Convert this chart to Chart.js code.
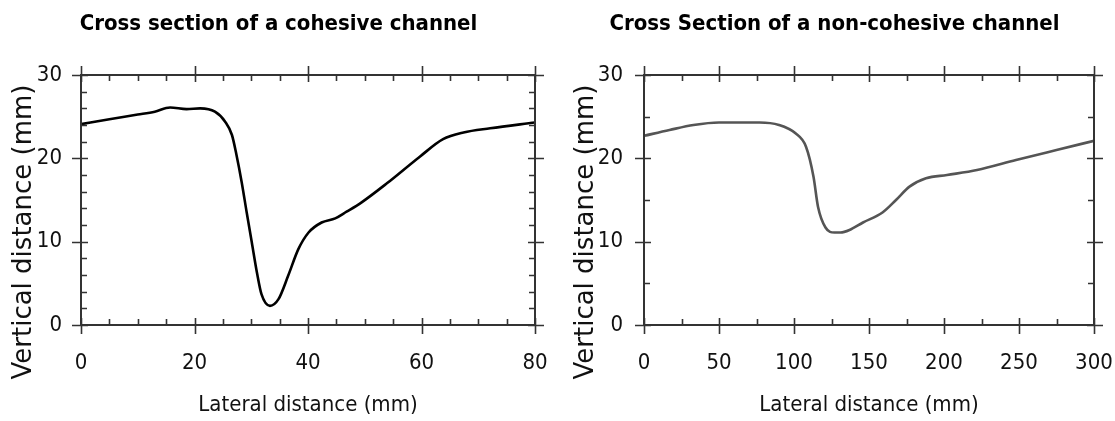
<!DOCTYPE html>
<html>
<head>
<meta charset="utf-8">
<script src="https://cdn.jsdelivr.net/npm/chart.js@4/dist/chart.umd.min.js"></script>
<style>
  html, body { margin: 0; padding: 0; background: #fff; }
  #wrap { position: relative; width: 1115px; height: 421px; overflow: hidden; }
  .cv { position: absolute; top: 0; }
</style>
</head>
<body>
<div id="wrap">
  <canvas id="c1" class="cv" width="557" height="421" style="left:0px"></canvas>
  <canvas id="c2" class="cv" width="558" height="421" style="left:557px"></canvas>
</div>
<script>
// ---- Data ----
const cohesiveX = [0, 5, 10, 13, 15.7, 18.6, 21, 23.6, 25.4, 26.6, 27.4, 28.3, 29.2, 30.1, 31.0, 31.8, 33.3, 34.8, 36.5, 38.3, 40.1, 42.4, 44.8, 46.8, 49.2, 53.9, 59.7, 63.8, 67.4, 72.1, 80];
const cohesiveY = [24.1, 24.7, 25.25, 25.6, 26.1, 25.9, 26.0, 25.6, 24.4, 22.8, 20.4, 17.2, 13.5, 9.9, 6.3, 3.7, 2.3, 3.1, 5.9, 9.1, 11.1, 12.3, 12.8, 13.6, 14.6, 17.0, 20.2, 22.3, 23.1, 23.6, 24.3];

const nonCohesiveX = [0, 17, 33, 50, 77, 90, 101, 108, 113, 116, 121, 127, 131, 137, 146, 159, 168, 177, 188, 202, 222, 248, 275, 300];
const nonCohesiveY = [22.7, 23.4, 24.0, 24.3, 24.3, 24.0, 23.0, 21.4, 17.8, 14.2, 11.7, 11.1, 11.1, 11.4, 12.3, 13.5, 15.0, 16.6, 17.6, 18.0, 18.6, 19.8, 21.0, 22.1];

const titles = ['Cross section of a cohesive channel', 'Cross Section of a non-cohesive channel'];
const xTitle = 'Lateral distance (mm)';
const yTitle = 'Vertical distance (mm)';

// axis ranges and tick steps
const leftX = { min: 0, max: 80, major: 20, minor: 5 };
const leftY = { min: 0, max: 30, major: 10, minor: 2 };
const rightX = { min: 0, max: 300, major: 50, minor: 25 };
const rightY = { min: 0, max: 30, major: 10, minor: 5 };

const NARROW = '"Liberation Sans Narrow", "DejaVu Sans Condensed", "Roboto Condensed", "Liberation Sans", sans-serif';
const AXIS_COLOR = '#333';

function toPoints(xs, ys) { return xs.map((x, i) => ({ x: x, y: ys[i] })); }

function framePlugin(xs, ys) {
  return {
    id: 'frameTicks',
    afterDatasetsDraw(chart) {
      const ctx = chart.ctx;
      const a = chart.chartArea;
      const sx = chart.scales.x, sy = chart.scales.y;
      ctx.save();
      ctx.strokeStyle = AXIS_COLOR;
      ctx.lineWidth = 2;
      ctx.strokeRect(a.left, a.top, a.right - a.left, a.bottom - a.top);
      ctx.lineWidth = 1.6;
      ctx.beginPath();
      for (let v = xs.min; v <= xs.max + 1e-9; v += xs.minor) {
        const px = Math.round(sx.getPixelForValue(v)) + 0.5;
        const isMajor = Math.abs(v / xs.major - Math.round(v / xs.major)) < 1e-6;
        const inL = isMajor ? 7 : 6, outL = isMajor ? 9 : 0;
        ctx.moveTo(px, a.bottom + outL); ctx.lineTo(px, a.bottom - inL);
        ctx.moveTo(px, a.top - outL); ctx.lineTo(px, a.top + inL);
      }
      for (let v = ys.min; v <= ys.max + 1e-9; v += ys.minor) {
        const py = Math.round(sy.getPixelForValue(v)) + 0.5;
        const isMajor = Math.abs(v / ys.major - Math.round(v / ys.major)) < 1e-6;
        const inL = isMajor ? 7 : 6, outL = isMajor ? 9 : 0;
        ctx.moveTo(a.left - outL, py); ctx.lineTo(a.left + inL, py);
        ctx.moveTo(a.right + outL, py); ctx.lineTo(a.right - inL, py);
      }
      ctx.stroke();
      ctx.restore();
    }
  };
}

function yTitlePlugin(cx) {
  return {
    id: 'yTitle',
    afterDraw(chart) {
      const ctx = chart.ctx;
      ctx.save();
      ctx.translate(cx, 232);
      ctx.rotate(-Math.PI / 2);
      ctx.font = '26px "DejaVu Sans", sans-serif';
      ctx.fillStyle = '#111';
      ctx.textAlign = 'center';
      ctx.textBaseline = 'middle';
      ctx.fillText(yTitle, 0, 0);
      ctx.restore();
    }
  };
}

function makeChart(id, title, xs, ys, pts, color, leftPad, yAxisWidth, yPad, yTitleX, rightPad) {
  return new Chart(document.getElementById(id), {
    type: 'line',
    data: {
      datasets: [{
        data: pts,
        borderColor: color,
        borderWidth: 2.6,
        pointRadius: 0,
        fill: false,
        cubicInterpolationMode: 'monotone'
      }]
    },
    options: {
      responsive: false,
      animation: false,
      events: [],
      layout: { padding: { left: leftPad, right: rightPad, top: 0, bottom: 0 } },
      plugins: {
        legend: { display: false },
        tooltip: { enabled: false },
        title: {
          display: true,
          text: title,
          color: '#000',
          font: { family: NARROW, size: 22, weight: 'bold', lineHeight: 1.2 },
          padding: { top: 11, bottom: 37.6 }
        }
      },
      scales: {
        x: {
          type: 'linear',
          min: xs.min, max: xs.max,
          grid: { display: false, drawTicks: false },
          border: { display: false },
          afterFit(s) { s.height = 96; s.paddingLeft = 0; s.paddingRight = 0; },
          afterBuildTicks(s) {
            const t = [];
            for (let v = xs.min; v <= xs.max + 1e-9; v += xs.major) t.push({ value: v });
            s.ticks = t;
          },
          ticks: {
            color: '#111',
            font: { family: NARROW, size: 22 },
            padding: 25,
            maxRotation: 0,
            autoSkip: false
          },
          title: {
            display: true,
            text: xTitle,
            color: '#111',
            font: { family: NARROW, size: 22 },
            padding: { top: 0, bottom: 3 }
          }
        },
        y: {
          type: 'linear',
          min: ys.min, max: ys.max,
          grid: { display: false, drawTicks: false },
          border: { display: false },
          afterFit(s) { s.width = yAxisWidth; },
          afterBuildTicks(s) {
            const t = [];
            for (let v = ys.min; v <= ys.max + 1e-9; v += ys.major) t.push({ value: v });
            s.ticks = t;
          },
          ticks: {
            color: '#111',
            font: { family: NARROW, size: 22 },
            padding: yPad,
            autoSkip: false
          }
        }
      }
    },
    plugins: [framePlugin(xs, ys), yTitlePlugin(yTitleX)]
  });
}

makeChart('c1', titles[0], leftX, leftY, toPoints(cohesiveX, cohesiveY), '#000', 22, 59, 19, 24, 22);
makeChart('c2', titles[1], rightX, rightY, toPoints(nonCohesiveX, nonCohesiveY), '#555', 18, 69, 21, 29, 21);
</script>
</body>
</html>
